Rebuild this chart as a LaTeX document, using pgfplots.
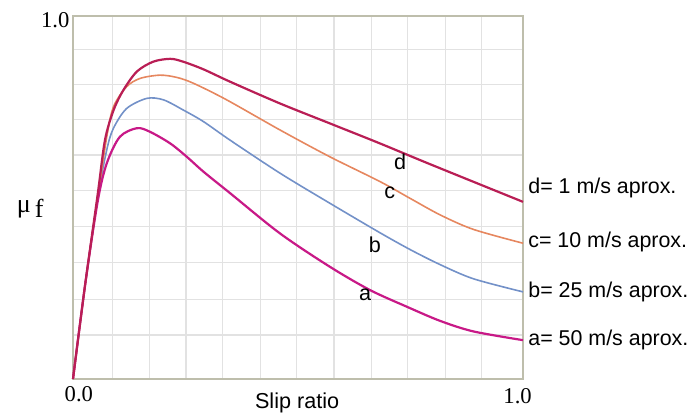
\documentclass[border=0pt]{standalone}
\usepackage{pgfplots}
\pgfplotsset{compat=1.18}
\usepackage{fontspec}
\setmainfont{Liberation Sans}
\newfontfamily\serif{Liberation Serif}
\definecolor{cd}{RGB}{185,30,85}
\definecolor{cc}{RGB}{230,135,95}
\definecolor{cb}{RGB}{115,145,200}
\definecolor{ca}{RGB}{200,25,135}
\definecolor{frame}{RGB}{190,190,172}
\definecolor{gridc}{RGB}{226,226,226}
\begin{document}
\begin{tikzpicture}
\path[use as bounding box] (-36.5pt,-18.5pt) rectangle (308pt,189.5pt);
\begin{axis}[
  scale only axis, width=225pt, height=181.5pt,
  xmin=0, xmax=1, ymin=0, ymax=1,
  xtick={0.088,0.170,0.251,0.333,0.416,0.497,0.58,0.664,0.744,0.827,0.908},
  ytick={0.121,0.22,0.32,0.42,0.519,0.617,0.715,0.812,0.908},
  xticklabels={}, yticklabels={},
  major tick length=0pt,
  grid=major, major grid style={color=gridc, line width=0.6pt},
  axis line style={color=frame, line width=1pt},
  clip=false,
  every axis plot/.append style={smooth, tension=0.5, mark=none},
]
\addplot[color=cb, line width=0.8pt] coordinates {
(0,0) (0.027,0.26) (0.055,0.50) (0.075,0.631) (0.0896,0.69) (0.119,0.745) (0.164,0.773) (0.201,0.769) (0.245,0.741) (0.290,0.709) (0.349,0.658) (0.46,0.567) (0.571,0.484) (0.682,0.403) (0.75,0.356) (0.816,0.315) (0.890,0.276) (1.0,0.240)};
\addplot[color=cc, line width=0.8pt] coordinates {
(0,0) (0.027,0.26) (0.055,0.50) (0.075,0.667) (0.090,0.750) (0.119,0.805) (0.149,0.828) (0.193,0.837) (0.230,0.831) (0.267,0.815) (0.34,0.77) (0.46,0.686) (0.571,0.612) (0.682,0.544) (0.75,0.497) (0.816,0.452) (0.890,0.412) (1.0,0.374)};
\addplot[color=ca, line width=1.1pt] coordinates {
(0,0) (0.027,0.26) (0.055,0.49) (0.075,0.594) (0.104,0.667) (0.142,0.691) (0.171,0.681) (0.216,0.649) (0.253,0.612) (0.290,0.571) (0.349,0.512) (0.46,0.401) (0.571,0.309) (0.66,0.245) (0.742,0.199) (0.816,0.160) (0.890,0.131) (1.0,0.107)};
\addplot[color=cd, line width=1.1pt] coordinates {
(0,0) (0.027,0.26) (0.055,0.51) (0.071,0.658) (0.09,0.74) (0.112,0.796) (0.142,0.847) (0.178,0.874) (0.216,0.882) (0.245,0.874) (0.290,0.853) (0.349,0.819) (0.46,0.759) (0.571,0.704) (0.682,0.649) (0.793,0.592) (1.0,0.488)};
% curve letters
\node[font=\fontsize{10.8}{12}\selectfont] at (axis cs:0.727,0.598) {d};
\node[font=\fontsize{10.8}{12}\selectfont] at (axis cs:0.704,0.512) {c};
\node[font=\fontsize{10.8}{12}\selectfont] at (axis cs:0.671,0.369) {b};
\node[font=\fontsize{10.8}{12}\selectfont] at (axis cs:0.649,0.231) {a};
% right labels
\node[anchor=west, inner sep=0pt, font=\fontsize{10.7}{12}\selectfont] at (axis cs:1.011,0.526) {d= 1 m/s aprox.};
\node[anchor=west, inner sep=0pt, font=\fontsize{10.7}{12}\selectfont] at (axis cs:1.011,0.377) {c= 10 m/s aprox.};
\node[anchor=west, inner sep=0pt, font=\fontsize{10.7}{12}\selectfont] at (axis cs:1.011,0.240) {b= 25 m/s aprox.};
\node[anchor=west, inner sep=0pt, font=\fontsize{10.7}{12}\selectfont] at (axis cs:1.011,0.107) {a= 50 m/s aprox.};
% tick labels
\node[anchor=east, inner sep=0pt, font=\serif\fontsize{11.3}{12}\selectfont] at (axis cs:-0.007,0.989) {1.0};
\node[inner sep=0pt, font=\serif\fontsize{11.3}{12}\selectfont] at (axis cs:0.013,-0.041) {0.0};
\node[inner sep=0pt, font=\serif\fontsize{11.3}{12}\selectfont] at (axis cs:0.988,-0.047) {1.0};
% axis labels
\node[inner sep=0pt, font=\fontsize{10.8}{12}\selectfont] at (axis cs:0.498,-0.065) {Slip ratio};
\node[inner sep=0pt, font=\serif\fontsize{13}{14}\selectfont] at (axis cs:-0.095,0.47) {μ\hspace{2pt}\raisebox{-2.5pt}{f}};
\end{axis}
\end{tikzpicture}
\end{document}
